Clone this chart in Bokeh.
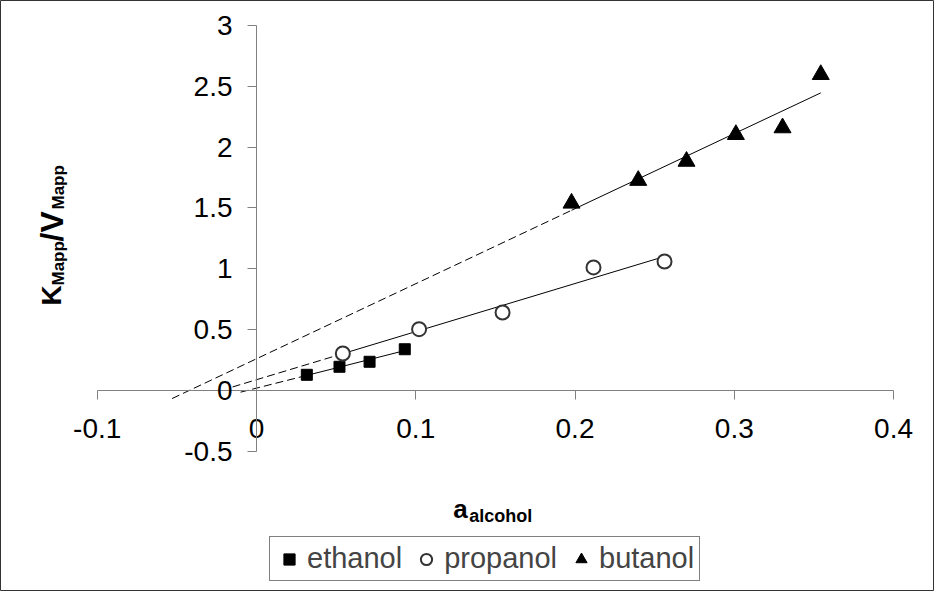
import math
import numpy as np
from bokeh.plotting import figure
from bokeh.models import (Range1d, FixedTicker, Legend, LegendItem, Label)
from bokeh.embed import file_html
from bokeh.resources import INLINE

# ---- data ----
ethanol_x = [0.0316, 0.0521, 0.0710, 0.0931]
ethanol_y = [0.129, 0.195, 0.236, 0.339]
propanol_x = [0.0542, 0.1021, 0.1545, 0.2116, 0.2562]
propanol_y = [0.304, 0.504, 0.641, 1.011, 1.060]
butanol_x = [0.1978, 0.2397, 0.2700, 0.3010, 0.3303, 0.3543]
butanol_y = [1.539, 1.726, 1.883, 2.103, 2.158, 2.596]
# start of the dashed backward extension of each linear trend line
trend_back_x = [-0.010, -0.015, -0.053]

x_ticks = [-0.1, 0.0, 0.1, 0.2, 0.3, 0.4]
x_tick_labels = ["-0.1", "0", "0.1", "0.2", "0.3", "0.4"]
y_ticks = [-0.5, 0.0, 0.5, 1.0, 1.5, 2.0, 2.5, 3.0]
y_tick_labels = ["-0.5", "0", "0.5", "1", "1.5", "2", "2.5", "3"]

FONT = "Liberation Sans"
W, H = 934, 591

p = figure(width=W, height=H, output_backend="svg", toolbar_location=None,
           x_range=Range1d(-256 / 1592.6, (W - 256) / 1592.6),
           y_range=Range1d(-(H - 390) / 121.7, 390 / 121.7),
           min_border=0, min_border_left=0, min_border_right=0,
           min_border_top=0, min_border_bottom=0)
p.background_fill_color = "white"
p.border_fill_color = "white"
p.outline_line_color = "#333333"
p.outline_line_width = 1
p.xgrid.visible = False
p.ygrid.visible = False

for ax, ticks, labels, bnds in ((p.xaxis[0], x_ticks, x_tick_labels, (-0.1, 0.4)),
                                (p.yaxis[0], y_ticks, y_tick_labels, (-0.5, 3.0))):
    ax.fixed_location = 0
    ax.bounds = bnds
    ax.ticker = FixedTicker(ticks=ticks)
    ax.major_label_overrides = {t: l for t, l in zip(ticks, labels)}
    ax.axis_line_color = "#808080"
    ax.axis_line_width = 1
    ax.major_tick_line_color = "#808080"
    ax.major_tick_out = 9
    ax.major_tick_in = 0
    ax.minor_tick_line_color = None
    ax.major_label_text_font = FONT
    ax.major_label_text_font_size = "28px"
    ax.major_label_text_color = "black"
p.xaxis[0].major_label_standoff = 19
p.yaxis[0].major_label_standoff = 15

# ---- trend lines (least squares fits of the data) ----
series = [(ethanol_x, ethanol_y), (propanol_x, propanol_y), (butanol_x, butanol_y)]
for (xs, ys), xb in zip(series, trend_back_x):
    b, a = np.polyfit(xs, ys, 1)
    x0, x1 = min(xs), max(xs)
    p.line([x0, x1], [a + b * x0, a + b * x1], line_color="black", line_width=1)
    p.line([xb, x0], [a + b * xb, a + b * x0], line_color="black", line_width=1,
           line_dash="8 4")

# ---- markers ----
r_eth = p.scatter(ethanol_x, ethanol_y, marker="square", size=11,
                  fill_color="black", line_color="black")
r_pro = p.scatter(propanol_x, propanol_y, marker="circle", size=14,
                  fill_color="white", line_color="#333333", line_width=2)
r_but = p.scatter(butanol_x, butanol_y, marker="triangle", size=17,
                  fill_color="black", line_color="black")

legend = Legend(items=[LegendItem(label="ethanol", renderers=[r_eth]),
                       LegendItem(label="propanol", renderers=[r_pro]),
                       LegendItem(label="butanol", renderers=[r_but])],
                orientation="horizontal", location=(269, 10),
                label_text_font=FONT, label_text_font_size="29px",
                border_line_color="black", border_line_width=1,
                background_fill_color="white", background_fill_alpha=1,
                padding=5, spacing=10, glyph_width=28, glyph_height=28,
                label_standoff=4, margin=0)
p.add_layout(legend)

# ---- axis titles with subscripts ----
def lab(x, y, text, size, angle=0.0):
    p.add_layout(Label(x=x, y=y, x_units="screen", y_units="screen", text=text,
                       text_font=FONT, text_font_style="bold",
                       text_font_size=size, text_color="black",
                       text_align="left", text_baseline="alphabetic",
                       angle=angle))

lab(452.7, 82.3, "a", "26px")
lab(468.7, 75.7, "alcohol", "18px")

A = math.pi / 2
lab(51, 286, "K", "28px", A)
lab(58, 306, "Mapp", "17px", A)
lab(51, 350, "/V", "32px", A)
lab(58, 382, "Mapp", "17px", A)

open("out.html", "w").write(file_html(p, INLINE))
